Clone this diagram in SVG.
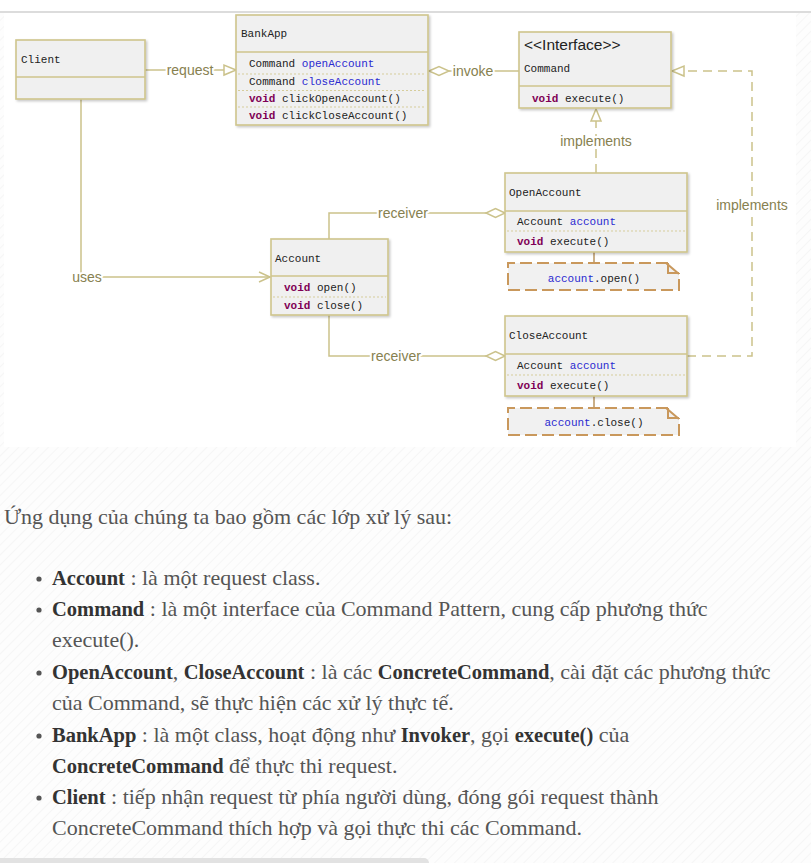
<svg xmlns="http://www.w3.org/2000/svg" width="811" height="863" viewBox="0 0 811 863">
<defs>
  <pattern id="hatch" patternUnits="userSpaceOnUse" width="7" height="7" patternTransform="rotate(45)">
    <line x1="0" y1="0" x2="0" y2="7" stroke="#f4f4f4" stroke-width="1.6"/>
  </pattern>
  <filter id="sh" x="-10%" y="-10%" width="130%" height="130%">
    <feDropShadow dx="1.5" dy="1.5" stdDeviation="1" flood-color="#000" flood-opacity="0.22"/>
  </filter>
  <style>
    .box{fill:#f0f0f0;stroke:#cfc58d;stroke-width:1.6;filter:url(#sh)}
    .div{stroke:#cfc58d;stroke-width:1.6;fill:none}
    .dot{stroke:#d6cd9b;stroke-width:1;stroke-dasharray:2,2;fill:none}
    .mono{font-family:"Liberation Mono","DejaVu Sans Mono",monospace;font-size:11px;fill:#222}
    .kw{fill:#7f0055;font-weight:bold}
    .fld{fill:#2a2ad0}
    .con{stroke:#cbc28b;stroke-width:1.5;fill:none}
    .dash{stroke:#cbc28b;stroke-width:1.5;fill:none;stroke-dasharray:9,6}
    .head{fill:#fff;stroke:#cbc28b;stroke-width:1.5}
    .lbl{font-family:"Liberation Sans","Open Sans",sans-serif;font-size:14px;fill:#878150;text-anchor:middle;stroke:#fff;stroke-width:4;paint-order:stroke;stroke-linejoin:round}
    .nfill{fill:#f1f1f1;stroke:none}
    .nd{fill:none;stroke:#c9985c;stroke-width:2;stroke-dasharray:12,5}
    .ns{fill:none;stroke:#c9985c;stroke-width:2}
    .nline{stroke:#b99461;stroke-width:1.5}
    .p{font-family:"Liberation Serif","DejaVu Serif",serif;font-size:22px;fill:#555}
    .b{font-weight:bold;fill:#333;font-size:20.5px}
  </style>
</defs>

<!-- page background -->
<rect x="0" y="0" width="811" height="863" fill="#fdfdfd"/>
<rect x="0" y="13" width="811" height="850" fill="url(#hatch)"/>
<rect x="0" y="0" width="811" height="11" fill="#fff"/>
<rect x="0" y="11" width="811" height="2" fill="#dcdcdc"/>
<rect x="4" y="13" width="792" height="434" fill="#fff"/>

<!-- connectors -->
<g id="connectors">
  <!-- request -->
  <line class="con" x1="145" y1="70" x2="224" y2="70"/>
  <polygon class="head" points="236,70 224,65 224,75"/>
  <text class="lbl" x="190" y="75">request</text>
  <!-- invoke -->
  <line class="con" x1="449" y1="71" x2="519" y2="71"/>
  <polygon class="head" points="429,71 439,66.5 449,71 439,75.5"/>
  <text class="lbl" x="473" y="76">invoke</text>
  <!-- implements vertical -->
  <line class="dash" x1="596" y1="173" x2="596" y2="121"/>
  <polygon class="head" points="596,109 591,121 601,121"/>
  <text class="lbl" x="596" y="146">implements</text>
  <!-- implements right -->
  <polyline class="dash" points="687,356 752,356 752,71 684,71"/>
  <polygon class="head" points="672,71 684,66 684,76"/>
  <text class="lbl" x="752" y="210">implements</text>
  <!-- receiver (open) -->
  <polyline class="con" points="329,239 329,213 486,213"/>
  <polygon class="head" points="505,213 495.5,208.5 486,213 495.5,217.5"/>
  <text class="lbl" x="403" y="218">receiver</text>
  <!-- receiver (close) -->
  <polyline class="con" points="329,315 329,356 486,356"/>
  <polygon class="head" points="505,356 495.5,351.5 486,356 495.5,360.5"/>
  <text class="lbl" x="396" y="361">receiver</text>
  <!-- uses -->
  <polyline class="con" points="81,99 81,277 270,277"/>
  <polyline class="con" points="259,272 270,277 259,282"/>
  <text class="lbl" x="87" y="282">uses</text>
  <!-- note links -->
  <line class="nline" x1="594" y1="252" x2="594" y2="263"/>
  <line class="nline" x1="594" y1="396" x2="594" y2="408"/>
</g>

<!-- Client -->
<g id="client">
  <rect class="box" x="16" y="40" width="129" height="59"/>
  <line class="div" x1="16" y1="77" x2="145" y2="77"/>
  <text class="mono" x="21" y="63">Client</text>
</g>

<!-- BankApp -->
<g id="bankapp">
  <rect class="box" x="236" y="15" width="192" height="110"/>
  <line class="div" x1="236" y1="52" x2="428" y2="52"/>
  <line class="dot" x1="238" y1="74" x2="426" y2="74"/>
  <line class="dot" x1="238" y1="90.5" x2="426" y2="90.5"/>
  <line class="dot" x1="238" y1="107" x2="426" y2="107"/>
  <text class="mono" x="241" y="37">BankApp</text>
  <text class="mono" x="249" y="67">Command <tspan class="fld">openAccount</tspan></text>
  <text class="mono" x="249" y="85">Command <tspan class="fld">closeAccount</tspan></text>
  <text class="mono" x="249" y="102"><tspan class="kw">void</tspan> clickOpenAccount()</text>
  <text class="mono" x="249" y="119"><tspan class="kw">void</tspan> clickCloseAccount()</text>
</g>

<!-- Command -->
<g id="command">
  <rect class="box" x="519" y="32" width="152" height="76"/>
  <line class="div" x1="519" y1="86" x2="671" y2="86"/>
  <text x="524" y="50" font-family="Liberation Sans, Open Sans, sans-serif" font-size="15.5" fill="#222">&lt;&lt;Interface&gt;&gt;</text>
  <text class="mono" x="524" y="72">Command</text>
  <text class="mono" x="532" y="102"><tspan class="kw">void</tspan> execute()</text>
</g>

<!-- OpenAccount -->
<g id="openaccount">
  <rect class="box" x="505" y="173" width="182" height="79"/>
  <line class="div" x1="505" y1="211" x2="687" y2="211"/>
  <line class="dot" x1="507" y1="231" x2="685" y2="231"/>
  <text class="mono" x="509" y="196">OpenAccount</text>
  <text class="mono" x="517" y="225">Account <tspan class="fld">account</tspan></text>
  <text class="mono" x="517" y="245"><tspan class="kw">void</tspan> execute()</text>
</g>

<!-- note open -->
<g id="note-open">
  <path class="nfill" d="M508,263 H668 L679,273 V290 H508 Z"/>
  <path class="nd" d="M668,263 H508 V290 H679 V273"/>
  <path class="ns" d="M666,263 L679,274 M668,263 V273 H679"/>
  <text class="mono" x="594" y="282" text-anchor="middle"><tspan class="fld">account</tspan>.open()</text>
</g>

<!-- Account -->
<g id="account">
  <rect class="box" x="271" y="239" width="117" height="76"/>
  <line class="div" x1="271" y1="276" x2="388" y2="276"/>
  <line class="dot" x1="273" y1="297" x2="386" y2="297"/>
  <text class="mono" x="275" y="262">Account</text>
  <text class="mono" x="284" y="291"><tspan class="kw">void</tspan> open()</text>
  <text class="mono" x="284" y="309"><tspan class="kw">void</tspan> close()</text>
</g>

<!-- CloseAccount -->
<g id="closeaccount">
  <rect class="box" x="505" y="316" width="182" height="80"/>
  <line class="div" x1="505" y1="354" x2="687" y2="354"/>
  <line class="dot" x1="507" y1="375" x2="685" y2="375"/>
  <text class="mono" x="509" y="339">CloseAccount</text>
  <text class="mono" x="517" y="369">Account <tspan class="fld">account</tspan></text>
  <text class="mono" x="517" y="389"><tspan class="kw">void</tspan> execute()</text>
</g>

<!-- note close -->
<g id="note-close">
  <path class="nfill" d="M508,408 H668 L679,418 V435 H508 Z"/>
  <path class="nd" d="M668,408 H508 V435 H679 V418"/>
  <path class="ns" d="M666,408 L679,419 M668,408 V418 H679"/>
  <text class="mono" x="594" y="426" text-anchor="middle"><tspan class="fld">account</tspan>.close()</text>
</g>

<!-- text below -->
<g id="text">
  <text class="p" x="4" y="524">Ứng dụng của chúng ta bao gồm các lớp xử lý sau:</text>
  <g fill="#555">
    <circle cx="39" cy="579" r="2.6"/>
    <circle cx="39" cy="610" r="2.6"/>
    <circle cx="39" cy="673" r="2.6"/>
    <circle cx="39" cy="736" r="2.6"/>
    <circle cx="39" cy="798" r="2.6"/>
  </g>
  <text class="p" x="52" y="585"><tspan class="b">Account</tspan> : là một request class.</text>
  <text class="p" x="52" y="616"><tspan class="b">Command</tspan> : là một interface của Command Pattern, cung cấp phương thức</text>
  <text class="p" x="52" y="647">execute().</text>
  <text class="p" x="52" y="679"><tspan class="b">OpenAccount</tspan>, <tspan class="b">CloseAccount</tspan> : là các <tspan class="b">ConcreteCommand</tspan>, cài đặt các phương thức</text>
  <text class="p" x="52" y="710">của Command, sẽ thực hiện các xử lý thực tế.</text>
  <text class="p" x="52" y="742"><tspan class="b">BankApp</tspan> : là một class, hoạt động như <tspan class="b">Invoker</tspan>, gọi <tspan class="b">execute()</tspan> của</text>
  <text class="p" x="52" y="773"><tspan class="b">ConcreteCommand</tspan> để thực thi request.</text>
  <text class="p" x="52" y="804"><tspan class="b">Client</tspan> : tiếp nhận request từ phía người dùng, đóng gói request thành</text>
  <text class="p" x="52" y="835">ConcreteCommand thích hợp và gọi thực thi các Command.</text>
</g>

<path d="M0,858 H424 A5,5 0 0 1 429,863 H0 Z" fill="#e2e2e2"/>
</svg>
